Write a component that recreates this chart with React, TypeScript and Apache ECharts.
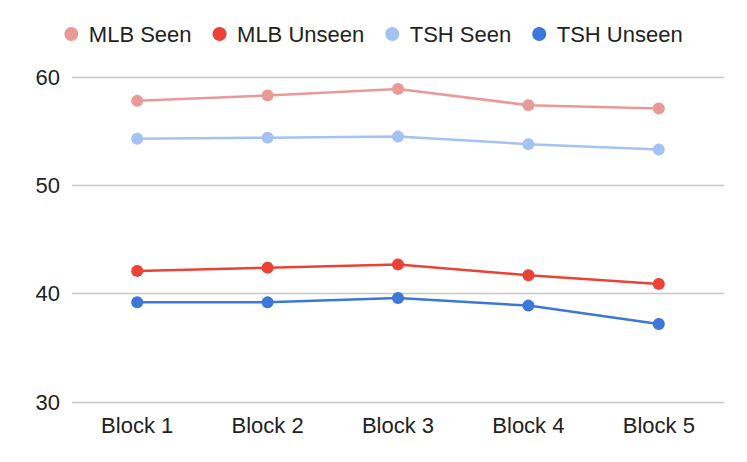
import React, { useEffect, useRef } from "react";
import * as echarts from "echarts";

const categories = ["Block 1", "Block 2", "Block 3", "Block 4", "Block 5"];
const seriesNames = ["MLB Seen", "MLB Unseen", "TSH Seen", "TSH Unseen"];
const mlbSeen = [57.8, 58.3, 58.9, 57.4, 57.1];
const mlbUnseen = [42.1, 42.4, 42.7, 41.7, 40.9];
const tshSeen = [54.3, 54.4, 54.5, 53.8, 53.3];
const tshUnseen = [39.2, 39.2, 39.6, 38.9, 37.2];
const colors = ["#ea9999", "#ea4335", "#a4c2f4", "#3c78d8"];

const FONT = "Arial, 'Liberation Sans', sans-serif";

export default function App() {
  const ref = useRef<HTMLDivElement>(null);
  useEffect(() => {
    if (!ref.current) return;
    const chart = echarts.init(ref.current, undefined, { renderer: "svg" });
    const data = [mlbSeen, mlbUnseen, tshSeen, tshUnseen];
    chart.setOption({
      animation: false,
      color: colors,
      textStyle: { fontFamily: FONT },
      legend: {
        top: 23,
        left: "center",
        padding: 0,
        icon: "circle",
        itemWidth: 25,
        itemHeight: 14,
        itemGap: 21,
        textStyle: { fontSize: 22, color: "#222", fontFamily: FONT },
        data: seriesNames,
      },
      grid: { left: 72, right: 23, top: 77, bottom: 60, containLabel: false },
      xAxis: {
        type: "category",
        data: categories,
        boundaryGap: true,
        axisLine: { show: false },
        axisTick: { show: false },
        axisLabel: { fontSize: 22, color: "#222", margin: 12, fontFamily: FONT },
      },
      yAxis: {
        type: "value",
        min: 30,
        max: 60,
        interval: 10,
        axisLine: { show: false },
        axisTick: { show: false },
        axisLabel: { fontSize: 22, color: "#222", margin: 12, fontFamily: FONT },
        splitLine: { lineStyle: { color: "#c8c8c8", width: 1.3 } },
      },
      series: seriesNames.map((name, i) => ({
        name,
        type: "line",
        data: data[i],
        symbol: "circle",
        symbolSize: 12,
        lineStyle: { width: 2.5, color: colors[i] },
        itemStyle: { color: colors[i] },
      })),
    });
    return () => chart.dispose();
  }, []);
  return (
    <div
      ref={ref}
      style={{ position: "fixed", left: 0, top: 0, width: 747, height: 462, background: "#fff" }}
    />
  );
}
